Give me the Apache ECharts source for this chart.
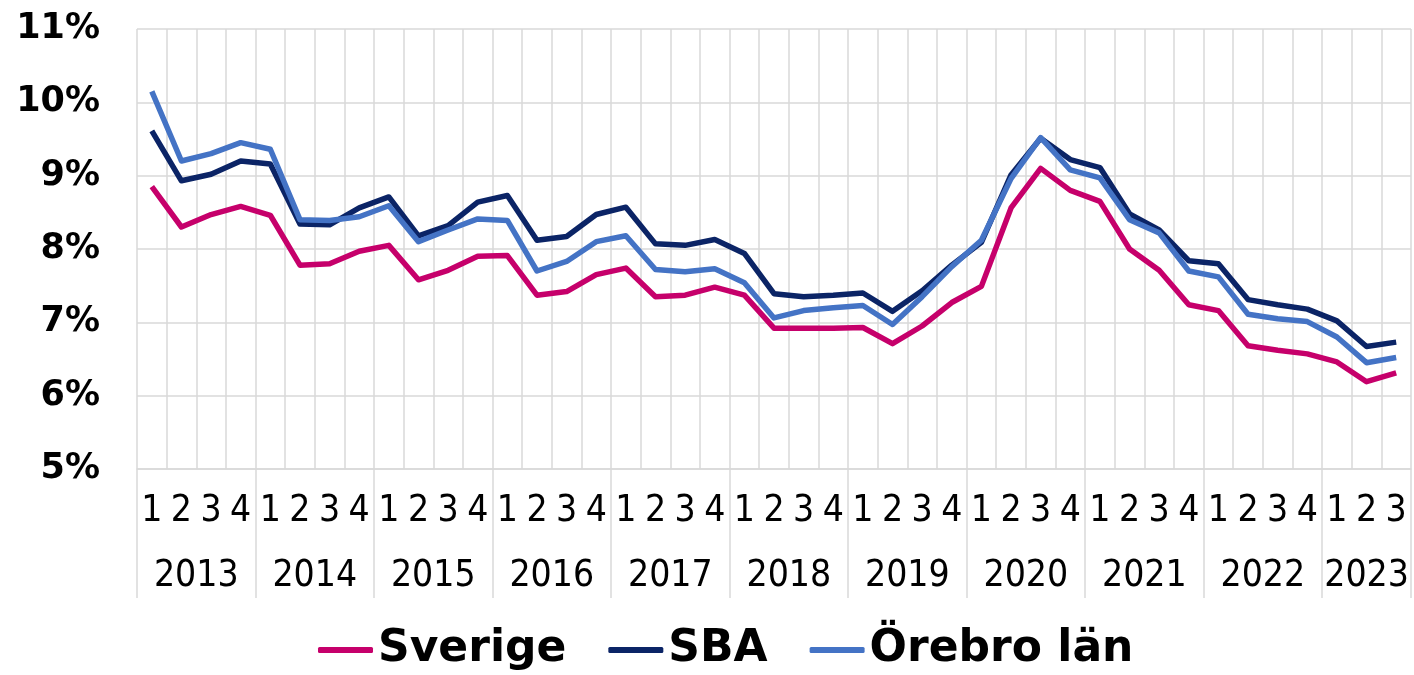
<!doctype html>
<html lang="sv">
<head>
<meta charset="utf-8">
<script src="https://cdn.jsdelivr.net/npm/echarts@6/dist/echarts.min.js"></script>
<style>
    html, body { margin: 0; padding: 0; background: #fff; }
    #main { width: 1414px; height: 675px; }
</style>
</head>
<body>
<div id="main"></div>
<script type="text/javascript">
    // år och antal kvartal per år
    var years = ['2013','2014','2015','2016','2017','2018','2019','2020','2021','2022','2023'];
    var quartersPerYear = [4,4,4,4,4,4,4,4,4,4,3];

    var sverige = [8.85,8.30,8.47,8.58,8.46, 7.78,7.80,7.97,8.05, 7.58,7.71,7.90,7.91,
                   7.37,7.42,7.65,7.74, 7.35,7.37,7.48,7.37, 6.92,6.92,6.92,6.93,
                   6.71,6.95,7.27,7.49, 8.56,9.10,8.80,8.65, 8.00,7.71,7.24,7.16,
                   6.68,6.62,6.57,6.46, 6.19,6.31];
    var sba     = [9.61,8.93,9.02,9.20,9.16, 8.34,8.33,8.56,8.71, 8.18,8.32,8.64,8.73,
                   8.12,8.17,8.47,8.57, 8.07,8.05,8.13,7.94, 7.39,7.35,7.37,7.40,
                   7.15,7.43,7.78,8.09, 9.01,9.51,9.22,9.11, 8.48,8.26,7.84,7.80,
                   7.31,7.24,7.18,7.02, 6.67,6.73];
    var orebro  = [10.15,9.20,9.30,9.45,9.36, 8.40,8.39,8.44,8.59, 8.10,8.26,8.41,8.39,
                   7.70,7.83,8.10,8.18, 7.72,7.69,7.73,7.54, 7.06,7.16,7.20,7.23,
                   6.97,7.35,7.76,8.12, 8.96,9.52,9.08,8.97, 8.40,8.22,7.70,7.62,
                   7.11,7.05,7.01,6.80, 6.45,6.52];

    // kvartalsetiketter 1-4 och årsetiketter på halvkvartalsskala
    var quarters = [];
    var yearSlots = [];
    var yearEdges = [0];
    var pos = 0;
    for (var y = 0; y < years.length; y++) {
        for (var q = 1; q <= quartersPerYear[y]; q++) quarters.push(String(q));
        pos += quartersPerYear[y];
        yearEdges.push(pos * 2);
    }
    for (var j = 0; j <= quarters.length * 2; j++) yearSlots.push('');
    for (var y = 0; y < years.length; y++) {
        yearSlots[(yearEdges[y] + yearEdges[y + 1]) / 2] = years[y];
    }

    var gridColor = '#D9D9D9';
    var labelFont = 'Liberation Sans Narrow, DejaVu Sans Condensed, sans-serif';
    var myChart = echarts.init(document.getElementById('main'));
    myChart.setOption({
        animation: false,
        grid: { left: 137, right: 1, top: 29, bottom: 206 },
        legend: {
            top: 623,
            left: 313,
            itemWidth: 55,
            itemHeight: 6,
            itemGap: 42,
            icon: 'roundRect',
            textStyle: {
                fontFamily: 'DejaVu Sans',
                fontWeight: 'bold',
                fontSize: 44,
                color: '#000'
            },
            data: ['Sverige', 'SBA', 'Örebro län']
        },
        xAxis: [{
            type: 'category',
            data: quarters,
            boundaryGap: true,
            axisLine: { lineStyle: { color: gridColor, width: 1.5 } },
            axisTick: { show: false },
            splitLine: { show: true, interval: 0, lineStyle: { color: gridColor, width: 1.5 } },
            axisLabel: {
                interval: 0,
                margin: 24,
                fontFamily: labelFont,
                fontSize: 37,
                color: '#000'
            }
        }, {
            type: 'category',
            data: yearSlots,
            boundaryGap: false,
            position: 'bottom',
            axisLine: { show: false },
            axisTick: {
                show: true,
                length: 129,
                interval: function (index) { return yearEdges.indexOf(index) >= 0; },
                lineStyle: { color: gridColor, width: 1.5 }
            },
            splitLine: { show: false },
            axisLabel: {
                interval: 0,
                margin: 89,
                fontFamily: labelFont,
                fontSize: 37,
                color: '#000'
            }
        }],
        yAxis: {
            type: 'value',
            min: 5,
            max: 11,
            interval: 1,
            axisLine: { show: false },
            axisTick: { show: false },
            splitLine: { lineStyle: { color: gridColor, width: 1.5 } },
            axisLabel: {
                formatter: '{value}%',
                margin: 37,
                fontFamily: 'DejaVu Sans',
                fontWeight: 'bold',
                fontSize: 35,
                color: '#000'
            }
        },
        series: [{
            name: 'Sverige',
            type: 'line',
            data: sverige,
            symbol: 'none',
            lineStyle: { width: 5.5, color: '#C6006B', join: 'round' },
            itemStyle: { color: '#C6006B' }
        }, {
            name: 'SBA',
            type: 'line',
            data: sba,
            symbol: 'none',
            lineStyle: { width: 5.5, color: '#0B2466', join: 'round' },
            itemStyle: { color: '#0B2466' }
        }, {
            name: 'Örebro län',
            type: 'line',
            data: orebro,
            symbol: 'none',
            lineStyle: { width: 5.5, color: '#4473C5', join: 'round' },
            itemStyle: { color: '#4473C5' }
        }]
    });
</script>
</body>
</html>
